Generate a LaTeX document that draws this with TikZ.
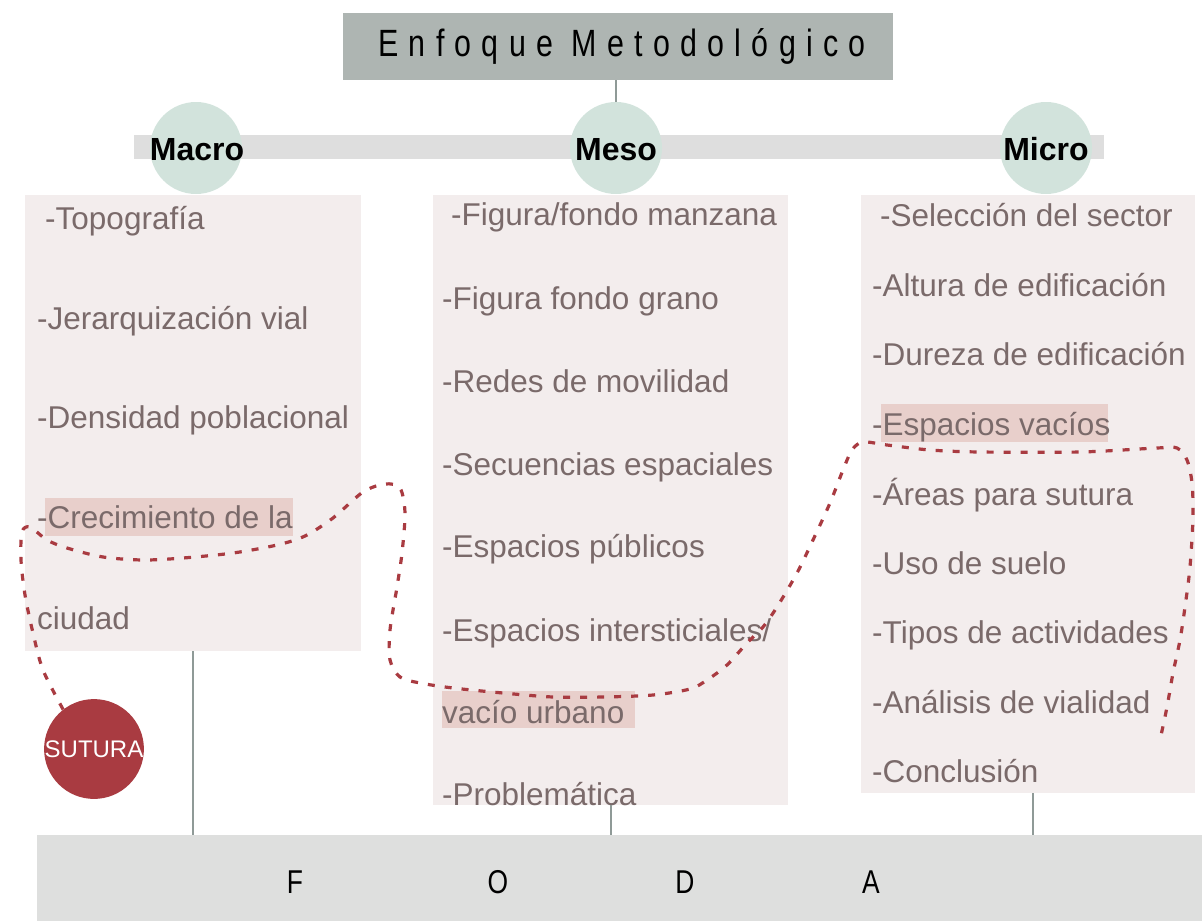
\documentclass[tikz,border=0pt]{standalone}
\usepackage{fontspec}
\setmainfont{Liberation Sans}
\newfontfamily\titlefont[FakeStretch=0.8,LetterSpace=27]{Liberation Sans}
\newfontfamily\fodafont[FakeStretch=0.8]{Liberation Sans}
\definecolor{titlefill}{RGB}{174,181,178}
\definecolor{barfill}{RGB}{222,222,222}
\definecolor{fodafill}{RGB}{222,223,222}
\definecolor{circfill}{RGB}{210,227,220}
\definecolor{boxfill}{RGB}{243,237,237}
\definecolor{hlfill}{RGB}{232,207,203}
\definecolor{txtc}{RGB}{122,106,106}
\definecolor{sutred}{RGB}{169,59,65}
\definecolor{linec}{RGB}{143,154,151}
\tikzset{
  colbox/.style={fill=boxfill, draw=none, inner sep=0, anchor=north west},
  hl/.style={fill=hlfill, draw=none, inner sep=0, anchor=north west},
  item/.style={inner sep=0, anchor=base west, text=txtc, font=\fontsize{31.5}{36}\selectfont},
  level/.style={circle, fill=circfill, draw=none, minimum size=92, inner sep=0},
  levellabel/.style={inner sep=0, anchor=base, font=\fontsize{32}{36}\selectfont\bfseries},
  fodaletter/.style={inner sep=0, anchor=base, font=\fodafont\fontsize{33}{36}\selectfont},
  conn/.style={draw=linec, line width=1.6pt},
  sutdash/.style={draw=sutred, line width=3.2pt, dash pattern=on 7pt off 10pt, line cap=butt}
}
\begin{document}
\begin{tikzpicture}[x=1pt,y=-1pt]
\useasboundingbox (0,0) rectangle (1202,921);
% title
\node[fill=titlefill, minimum width=550, minimum height=67, inner sep=0, anchor=north west] (title) at (343,13) {};
\node[inner sep=0, anchor=base] (titletext) at (622,56) {\titlefont\fontsize{38}{40}\selectfont Enfoque Metodológico};
% bar
\node[fill=barfill, minimum width=970, minimum height=24, inner sep=0, anchor=north west] (bar) at (134,135) {};
% circles
\node[level] (macro) at (196,148) {};
\node[level] (meso) at (616,148) {};
\node[level] (micro) at (1046,148) {};
\draw[conn] (title.south -| meso.north) -- (meso.north);
\node[levellabel] (macrol) at (197,160) {Macro};
\node[levellabel] (mesol) at (616,160) {Meso};
\node[levellabel] (microl) at (1046,160) {Micro};
% boxes
\node[colbox, minimum width=336, minimum height=456] (macrobox) at (25,195) {};
\node[colbox, minimum width=355, minimum height=610] (mesobox) at (433,195) {};
\node[colbox, minimum width=334, minimum height=598] (microbox) at (861,195) {};
% highlights
\node[hl, minimum width=248, minimum height=38] (hl1) at (45,498) {};
\node[hl, minimum width=193, minimum height=37] (hl2) at (442,691) {};
\node[hl, minimum width=227, minimum height=38] (hl3) at (881,404) {};
% macro items
\node[item] (a1) at (45,229) {-Topografía};
\node[item] (a2) at (37,329) {-Jerarquización vial};
\node[item] (a3) at (37,428) {-Densidad poblacional};
\node[item] (a4) at (37,528) {-Crecimiento de la};
\node[item] (a5) at (37,629) {ciudad};
% meso items
\node[item] (b1) at (451,225) {-Figura/fondo manzana};
\node[item] (b2) at (442,309) {-Figura fondo grano};
\node[item] (b3) at (442,392) {-Redes de movilidad};
\node[item] (b4) at (442,475) {-Secuencias espaciales};
\node[item] (b5) at (442,557) {-Espacios públicos};
\node[item] (b6) at (442,641) {-Espacios intersticiales/};
\node[item] (b7) at (442,723) {vacío urbano};
\begin{scope}
\clip (mesobox.north west) rectangle (mesobox.south east);
\node[item] (b8) at (442,805) {-Problemática};
\end{scope}
% micro items
\node[item] (c1) at (880,226) {-Selección del sector};
\node[item] (c2) at (872,296) {-Altura de edificación};
\node[item] (c3) at (872,365) {-Dureza de edificación};
\node[item] (c4) at (872,435) {-Espacios vacíos};
\node[item] (c5) at (872,505) {-Áreas para sutura};
\node[item] (c6) at (872,574) {-Uso de suelo};
\node[item] (c7) at (872,643) {-Tipos de actividades};
\node[item] (c8) at (872,713) {-Análisis de vialidad};
\node[item] (c9) at (872,782) {-Conclusión};
% FODA
\node[fill=fodafill, minimum width=1165, minimum height=86, inner sep=0, anchor=north west] (foda) at (37,835) {};
\node[fodaletter] (fF) at (295,893) {F};
\node[fodaletter] (fO) at (498,893) {O};
\node[fodaletter] (fD) at (685,893) {D};
\node[fodaletter] (fA) at (871,893) {A};
% connectors to FODA
\draw[conn] (macrobox.south) -- (macrobox.south |- foda.north);
\draw[conn] (mesobox.south) -- (mesobox.south |- foda.north);
\draw[conn] ([xshift=5]microbox.south) -- ([xshift=5]microbox.south |- foda.north);
% sutura
\node[circle, fill=sutred, minimum size=98, inner sep=0, text=white, font=\fontsize{24}{28}\selectfont] (sutura) at (94,749) {SUTURA};
% dashed curve
\draw[sutdash] plot[smooth, tension=0.5] coordinates {
(sutura.128) (43,670) (33,633) (25,595) (21,560) (22,532) (30,527) (47,540) (67,548)
(103,557) (143,560) (183,558) (233,553) (277,545) (305,536) (333,518) (363,492)
(385,484) (400,488) (405,513) (402,553) (397,587) (390,630) (390,660) (400,677)
(420,683) (453,688) (503,693) (553,697) (603,697) (653,695) (690,689) (707,680)
(727,665) (747,643) (763,627) (777,607) (797,573) (813,540) (830,503) (843,470)
(852,450) (863,442) (887,445) (930,450) (980,452) (1080,452) (1157,448) (1177,448)
(1187,460) (1192,483) (1193,517) (1190,567) (1185,607) (1180,640) (1173,673)
(1167,707) (1160,740)};
\end{tikzpicture}
\end{document}
